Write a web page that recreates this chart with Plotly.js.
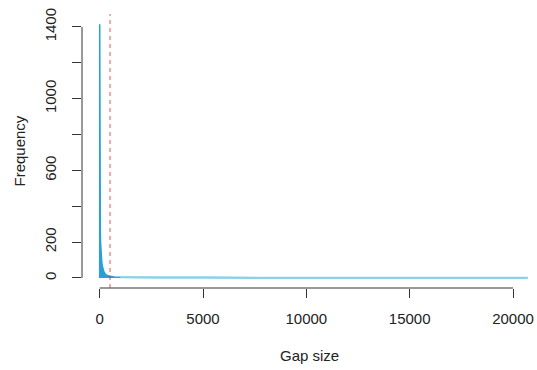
<!DOCTYPE html>
<html>
<head>
<meta charset="utf-8">
<script src="https://cdn.plot.ly/plotly-3.0.1.min.js"></script>
<style>html,body{margin:0;padding:0;background:#fff;}#chart{width:537px;height:370px;}</style>
</head>
<body>
<div id="chart"></div>
<script>
// Gap size histogram
const gapSize = [0, 1, 2, 3, 5, 8, 12, 20, 30, 45, 60, 80, 100, 130, 160, 200, 250, 300, 400, 500, 700, 1000, 1500, 2000, 3000, 5000, 8000, 12000, 16000, 20700];
const frequency = [0, 1415, 1090, 900, 720, 560, 430, 320, 250, 190, 150, 115, 90, 65, 48, 35, 25, 18, 12, 9, 6, 4, 3, 2, 2, 2, 1, 1, 1, 1];
const xTicks = [0, 5000, 10000, 15000, 20000];
const yTicks = [0, 200, 400, 600, 800, 1000, 1200, 1400];
const yTickText = ['0', '200', '', '600', '', '1000', '', '1400'];
const cutoff = 500;

const traces = [{
  type: 'scatter', mode: 'lines', x: gapSize, y: frequency,
  fill: 'tozeroy', fillcolor: '#2b9fd8',
  line: {color: '#2b9fd8', width: 1.5}, hoverinfo: 'skip'
}, {
  type: 'scatter', mode: 'lines', x: gapSize.slice(21), y: frequency.slice(21),
  line: {color: '#86d3e6', width: 2}, hoverinfo: 'skip'
}];

const font = {family: 'Liberation Sans, Arial, sans-serif', size: 15, color: '#222'};
const layout = {
  width: 537, height: 370,
  margin: {l: 82, r: 0, t: 14, b: 82},
  paper_bgcolor: '#fff', plot_bgcolor: '#fff',
  showlegend: false,
  font: font,
  xaxis: {range: [-856, 21160], showgrid: false, zeroline: false, showline: false,
    tickmode: 'array', tickvals: xTicks, ticktext: xTicks.map(String),
    ticks: 'outside', ticklen: 9, tickwidth: 1, tickcolor: '#333', tickfont: font,
    ticklabelstandoff: 8},
  yaxis: {range: [-56, 1472], showgrid: false, zeroline: false, showline: false,
    tickmode: 'array', tickvals: yTicks, ticktext: yTickText, tickangle: -90,
    ticks: 'outside', ticklen: 9, tickwidth: 1, tickcolor: '#333', tickfont: font,
    ticklabelstandoff: 10},
  shapes: [
    {type: 'line', xref: 'x', yref: 'paper', x0: xTicks[0], x1: xTicks[xTicks.length-1], y0: 0, y1: 0, line: {color: '#333', width: 1}},
    {type: 'line', xref: 'paper', yref: 'y', x0: 0, x1: 0, y0: yTicks[0], y1: yTicks[yTicks.length-1], line: {color: '#333', width: 1}},
    {type: 'line', xref: 'x', yref: 'paper', x0: cutoff, x1: cutoff, y0: 0, y1: 1, line: {color: 'rgba(220,40,40,0.8)', width: 1, dash: '4px,4px'}}
  ],
  annotations: [
    {text: 'Gap size', xref: 'paper', yref: 'paper', x: 0.5, y: 0, yshift: -78, showarrow: false, font: font},
    {text: 'Frequency', xref: 'paper', yref: 'paper', x: 0, y: 0.5, xshift: -74, textangle: -90, showarrow: false, font: font}
  ]
};
Plotly.newPlot('chart', traces, layout, {staticPlot: true, displayModeBar: false});
</script>
</body>
</html>
